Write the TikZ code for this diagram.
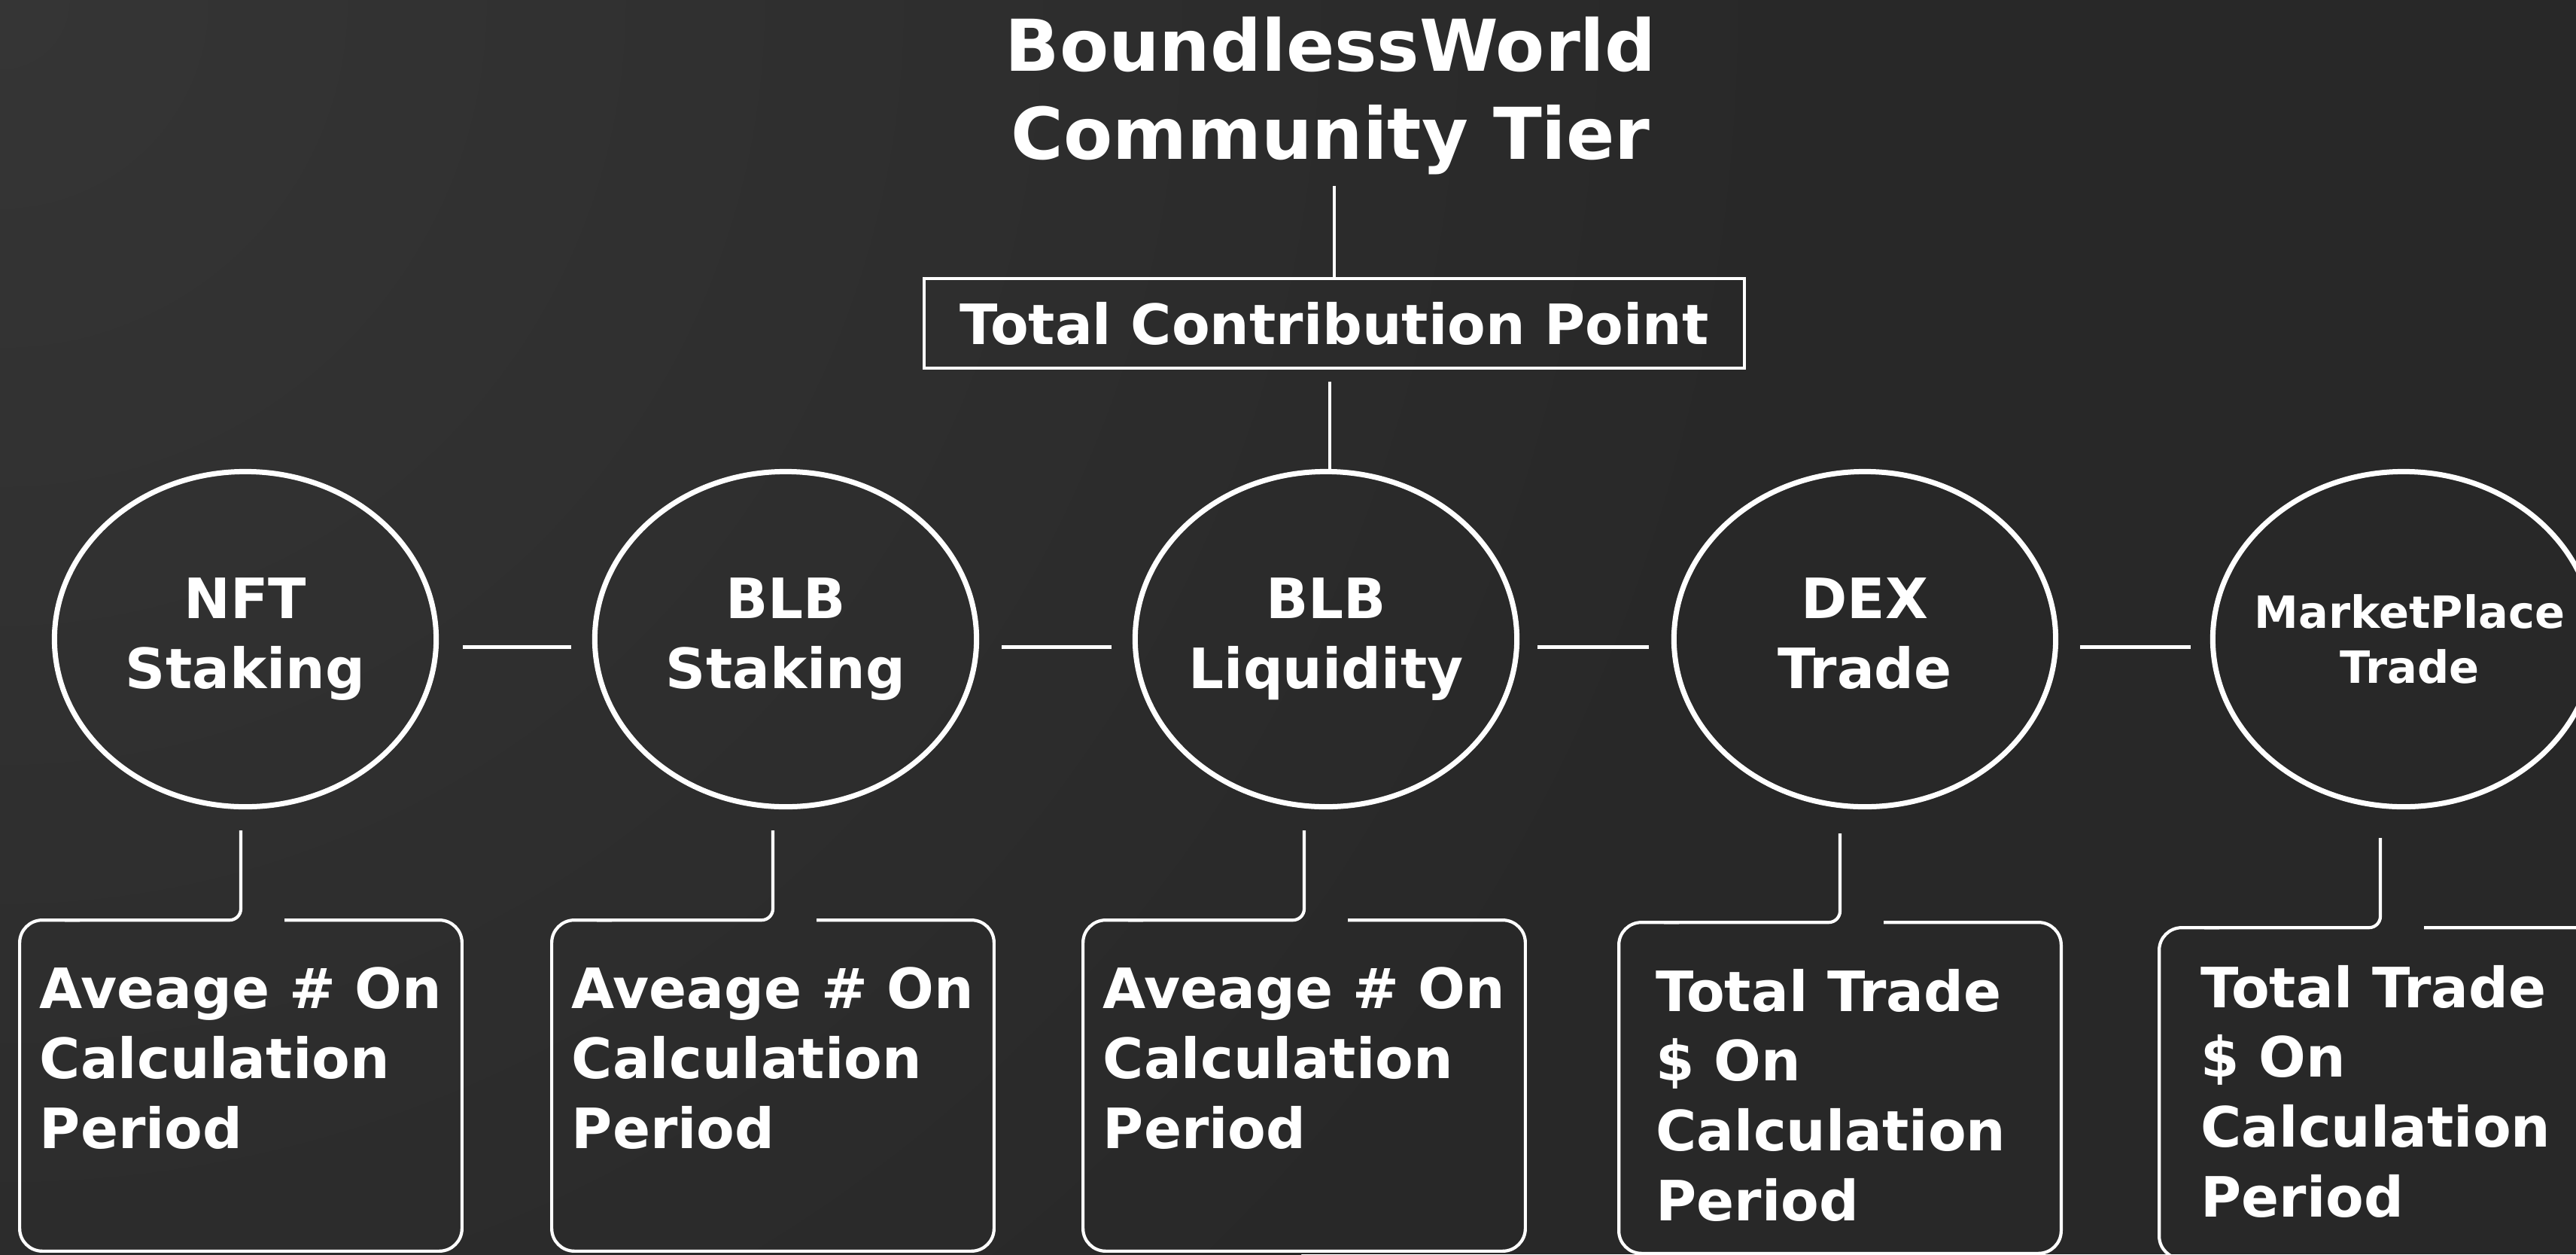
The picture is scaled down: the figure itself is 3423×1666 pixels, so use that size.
\documentclass[tikz,border=0pt]{standalone}
\usepackage{fontspec}
\setmainfont{DejaVu Sans}
\usetikzlibrary{shapes.geometric,calc}
\definecolor{bgA}{HTML}{282828}
\definecolor{bgB}{HTML}{353535}
\begin{document}
\begin{tikzpicture}[x=0.01cm,y=-0.01cm,
  titletxt/.style={text=white,inner sep=0,align=center,font=\bfseries\fontsize{27}{33.3}\selectfont},
  topbox/.style={draw=white,line width=0.042cm,inner sep=0,minimum width=10.9cm,minimum height=1.19cm,text=white,font=\bfseries\fontsize{21}{26.4}\selectfont},
  circ/.style={ellipse,draw=white,line width=0.07cm,minimum width=5.07cm,minimum height=4.45cm,inner sep=0},
  elbl/.style={text=white,inner sep=0,align=center,font=\bfseries\fontsize{21}{26.4}\selectfont},
  smalllbl/.style={elbl,font=\bfseries\fontsize{16.8}{20.5}\selectfont},
  wire/.style={draw=white,line width=0.045cm},
  hwire/.style={draw=white,line width=0.05cm},
  card/.style={inner sep=0,minimum width=5.86cm,minimum height=4.38cm},
  cardline/.style={draw=white,line width=0.042cm},
  cardtxt/.style={text=white,inner sep=0,anchor=north,align=left,font=\bfseries\fontsize{21}{26.4}\selectfont}]
\begin{scope}
  \clip (0,0) rectangle (3423,1666);
  \fill[bgA] (0,0) rectangle (3423,1666);
  \shade[inner color=bgB,outer color=bgA] (0,0) circle (24cm);
\end{scope}
\useasboundingbox (0,0) rectangle (3423,1666);

% title and top box
\node[titletxt] (title) at (1768,127) {BoundlessWorld\\Community Tier};
\node[topbox] (tcp) at (1773,429.5) {Total Contribution Point};
\coordinate (tstart) at ($(title.south -| tcp.north)+(0,14)$);
\draw[wire] (tstart) -- (tcp.north);

% ellipses
\node[circ] (e1) at (326,849) {};
\node[circ] (e2) at (1044,849) {};
\node[circ] (e3) at (1762,849) {};
\node[circ] (e4) at (2478,849) {};
\node[circ] (e5) at (3194,849) {};
\node[elbl] (l1) at (e1) {NFT\\Staking};
\node[elbl] (l2) at (e2) {BLB\\Staking};
\node[elbl] (l3) at (e3) {BLB\\Liquidity};
\node[elbl] (l4) at (e4) {DEX\\Trade\vphantom{g}};
\node[smalllbl] (l5) at ($(e5)+(8,0)$) {MarketPlace\\Trade};

\coordinate (bstart) at ($(tcp.south)+(-6,16)$);
\draw[wire] (bstart) -- (bstart |- e3.north);

\draw[hwire] ($(e1.east)+(32,10)$) -- ($(e2.west)+(-28,10)$);
\draw[hwire] ($(e2.east)+(30,10)$) -- ($(e3.west)+(-28,10)$);
\draw[hwire] ($(e3.east)+(24,10)$) -- ($(e4.west)+(-30,10)$);
\draw[hwire] ($(e4.east)+(29,10)$) -- ($(e5.west)+(-26,10)$);

% cards
\node[card] (b1) at (320,1442) {};
\node[card] (b2) at (1027,1442) {};
\node[card] (b3) at (1733,1442) {};
\node[card] (b4) at (2445,1445) {};
\node[card] (b5) at (3163,1452) {};

\foreach \i/\d in {1/28,2/28,3/28,4/32,5/38}{
  \coordinate (c\i) at ($(b\i.north |- e\i.south)+(0,\d)$);
  \draw[cardline,rounded corners=0.15cm] (c\i) -- (b\i.north) -- ($(b\i.north west)+(60,0)$);
  \draw[cardline,rounded corners=0.3cm] ($(b\i.north west)+(80,0)$) -- (b\i.north west) -- (b\i.south west) -- (b\i.south east) -- (b\i.north east) -- ($(b\i.north)+(58,0)$);
}

\node[cardtxt] (t1) at ($(b1.north)+(0,62)$) {Aveage \# On\\Calculation\\Period};
\node[cardtxt] (t2) at ($(b2.north)+(0,62)$) {Aveage \# On\\Calculation\\Period};
\node[cardtxt] (t3) at ($(b3.north)+(0,62)$) {Aveage \# On\\Calculation\\Period};
\node[cardtxt] (t4) at ($(b4.north)+(-12,61)$) {Total Trade\\\$ On\\Calculation\\Period};
\node[cardtxt] (t5) at ($(b5.north)+(-6,49)$) {Total Trade\\\$ On\\Calculation\\Period};
\end{tikzpicture}
\end{document}
